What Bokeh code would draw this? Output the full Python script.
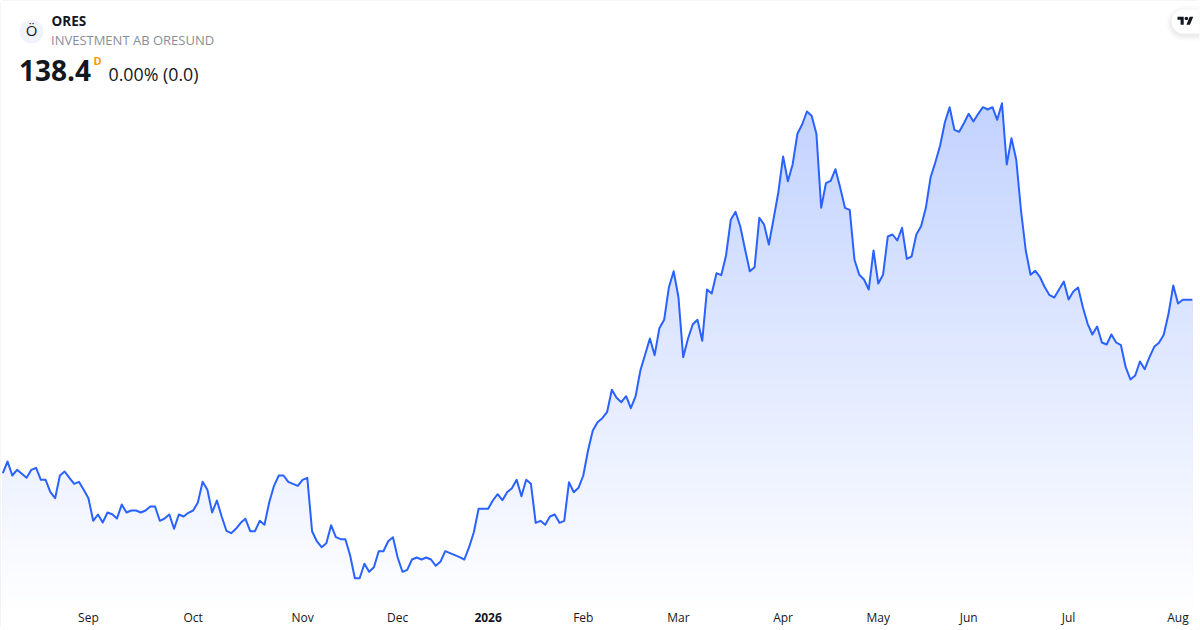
import numpy as np
from bokeh.embed import file_html
from bokeh.models import ColumnDataSource, FixedTicker, Label, LinearAxis, Range1d
from bokeh.plotting import figure
from bokeh.resources import INLINE

# ---- data ----
closes = [
121.06,122.23,120.83,121.40,121.00,120.60,121.40,121.60,120.40,120.40,
119.16,118.56,120.83,121.23,120.60,120.00,120.20,119.40,118.56,116.30,
116.93,116.13,117.13,116.96,116.53,117.93,117.13,117.33,117.33,117.13,
117.33,117.73,117.73,116.30,116.53,116.93,115.50,116.93,116.73,117.10,
117.33,118.13,120.20,119.40,117.13,118.33,116.73,115.30,115.06,115.50,
116.10,116.50,115.26,115.26,116.30,115.90,118.16,119.80,120.83,120.83,
120.20,120.00,119.80,120.40,120.60,115.26,114.26,113.66,114.06,115.86,
114.66,114.46,114.46,112.83,110.56,110.56,112.00,111.20,111.66,113.26,
113.26,114.26,114.66,112.60,111.20,111.40,112.43,112.63,112.43,112.63,
112.43,111.80,112.23,113.26,113.06,112.86,112.66,112.43,113.66,115.16,
117.50,117.50,117.50,118.33,118.96,118.36,119.16,119.56,120.40,118.76,
120.40,120.00,116.10,116.30,115.90,116.73,116.93,116.10,116.30,120.16,
119.16,119.60,120.83,123.33,125.33,126.16,126.56,127.16,129.40,128.60,
128.16,128.76,127.56,128.76,131.33,132.93,134.53,132.86,135.56,136.40,
139.66,141.26,138.66,132.66,134.50,135.93,136.40,134.30,139.43,139.03,
141.06,140.86,142.83,146.40,147.20,145.73,143.46,141.26,141.66,146.60,
145.93,143.93,146.50,149.16,152.73,150.26,151.93,155.00,155.93,157.23,
156.80,155.00,147.60,150.06,150.30,151.46,149.60,147.60,147.40,142.40,
140.90,140.43,139.43,143.33,140.03,140.90,144.73,144.93,144.33,145.60,
142.50,142.73,144.93,145.76,147.60,150.66,152.16,153.83,156.16,157.66,
155.40,155.20,156.06,157.00,156.23,157.00,157.66,157.43,157.66,156.40,
158.06,151.93,154.56,152.40,147.33,143.33,140.90,141.30,140.66,139.66,
138.86,138.63,139.43,140.23,138.43,139.23,139.63,137.66,136.00,134.93,
135.73,134.13,133.93,134.93,134.13,133.86,131.66,130.43,130.83,132.23,
131.46,132.66,133.70,134.10,134.90,137.00,139.83,138.03,138.40,138.40,
138.40,
]
sessions = list(range(len(closes)))
tick_sessions = [18, 40, 63, 83, 122, 142, 164, 184, 203, 224, 247]
tick_labels = ["Sep", "Oct", "Nov", "Dec", "Feb", "Mar", "Apr", "May", "Jun", "Jul", "Aug"]
year_session = 102
year_label = "2026"
symbol = "ORES"
company = "INVESTMENT AB ORESUND"
last_price = "138.4"
interval = "D"
change = "0.00% (0.0)"
logo_letter = "Ö"

# ---- layout ----
W, H = 1200, 630
PX_PER_SESSION = 4.758
X0 = 2.3
PX_PER_UNIT = 10.0
TOP_PRICE = 168.33
BASE_PX = 606

x_start = -X0 / PX_PER_SESSION
x_end = (W - X0) / PX_PER_SESSION
y_end = TOP_PRICE
y_start = TOP_PRICE - H / PX_PER_UNIT


def dx(px):
    return (np.asarray(px, dtype=float) - X0) / PX_PER_SESSION


def dy(py):
    return TOP_PRICE - np.asarray(py, dtype=float) / PX_PER_UNIT


INK = "#131722"
BLUE = "#2962FF"

p = figure(width=W, height=H, output_backend="svg", toolbar_location=None,
           x_range=Range1d(x_start, x_end), y_range=Range1d(y_start, y_end),
           x_axis_location=None, y_axis_location=None,
           min_border_left=0, min_border_right=0, min_border_top=0, min_border_bottom=0,
           outline_line_color=None, background_fill_color="white", border_fill_color="white")
p.styles = {"position": "absolute", "left": "0", "top": "0",
            "outline": "1px solid #e4e6ec", "outline-offset": "-1px", "border-radius": "5px",
            "overflow": "hidden"}
p.grid.visible = False


def time_axis(ticks, overrides, style, at_px):
    ax = LinearAxis(ticker=FixedTicker(ticks=ticks), major_label_overrides=overrides,
                    fixed_location=float(dy(at_px)))
    ax.axis_line_color = None
    ax.major_tick_line_color = None
    ax.minor_tick_line_color = None
    ax.major_label_standoff = 3
    ax.major_label_text_font = "Open Sans"
    ax.major_label_text_font_size = "12px"
    ax.major_label_text_font_style = style
    ax.major_label_text_color = INK
    p.add_layout(ax, "below")


# gradient under the line: opaque bands painted top-down, then a white mask above the line
top_price = max(closes)
base_price = float(dy(BASE_PX))
levels = np.linspace(top_price, base_price, 240)
fracs = (top_price - levels) / (top_price - base_price)
alphas = 0.28 * (1 - fracs)
rgb = [(255 - (255 - c) * alphas) for c in (41, 98, 255)]
colors = ["#%02x%02x%02x" % (int(r), int(g), int(b)) for r, g, b in zip(*rgb)]
p.quad(left=sessions[0], right=sessions[-1], top=levels, bottom=base_price,
       fill_color=colors, line_color=None)
mask_x = [float(dx(0))] + sessions + [float(dx(W))]
mask_y = [closes[0]] + closes + [closes[-1]]
p.varea(x=mask_x, y1=mask_y, y2=[y_end] * len(mask_y), fill_color="white")
src = ColumnDataSource(dict(x=sessions, y=closes))
p.line("x", "y", source=src, line_color=BLUE, line_width=2, line_join="round")

time_axis(tick_sessions, dict(zip(tick_sessions, tick_labels)), "normal", 599)
time_axis([year_session], {year_session: year_label}, "bold", 603)


def label(text, x, y, size, color=INK, style="normal", align="left"):
    p.add_layout(Label(x=float(dx(x)), y=float(dy(y)), x_units="data", y_units="data", text=text,
                       text_font="Open Sans", text_font_size=f"{size}px", text_color=color,
                       text_font_style=style, text_align=align, text_baseline="alphabetic"))


# header
p.scatter(dx([31]), dy([31]), size=24, marker="circle", fill_color="#f0f3fa", line_color=None)
label(logo_letter, 31, 29.5, 15, align="center")
label(symbol, 51, 20.5, 13.5, style="bold")
label(company, 50.5, 39, 13, color="#8a8e97")
label(last_price, 18.5, 70, 28, style="bold")
label(interval, 93, 60, 11, color="#ff9800", style="bold")
label(change, 108, 73, 17.8)


# TradingView badge: pill with soft shadow and logo
def pill(x0, x1, y0, y1, r):
    a = np.linspace(np.pi / 2, 3 * np.pi / 2, 24)
    xs = np.r_[x1, x0 + r + r * np.cos(a), x1]
    ys = np.r_[y0, (y0 + y1) / 2 - r * np.sin(a), y1]
    return dx(xs), dy(ys)


for grow, alpha in [(6, 0.006), (5, 0.008), (4, 0.01), (3, 0.012), (2, 0.014), (1, 0.016)]:
    sx, sy = pill(1171 - grow, 1199, 9 - grow + 2, 33 + grow + 2, 12 + grow)
    p.patch(sx, sy, fill_color="black", fill_alpha=alpha, line_color=None)
sx, sy = pill(1171, 1199, 9, 33, 12)
p.patch(sx, sy, fill_color="white", line_color=None)

lx, ly, ls = 1177.0, 14.4, 0.444
t_u = np.array([0, 14, 14, 7, 7, 0, 0], dtype=float)
t_v = np.array([4, 4, 22, 22, 11, 11, 4], dtype=float)
v_u = np.array([27.5, 35.5, 28, 20, 27.5], dtype=float)
v_v = np.array([4, 4, 22, 22, 4], dtype=float)
p.patch(dx(lx + t_u * ls), dy(ly + t_v * ls), fill_color=INK, line_color=None)
p.patch(dx(lx + v_u * ls), dy(ly + v_v * ls), fill_color=INK, line_color=None)
p.scatter(dx([lx + 20 * ls]), dy([ly + 8 * ls]), size=8 * ls, marker="circle",
          fill_color=INK, line_color=None)

open("out.html", "w").write(file_html(p, INLINE))
